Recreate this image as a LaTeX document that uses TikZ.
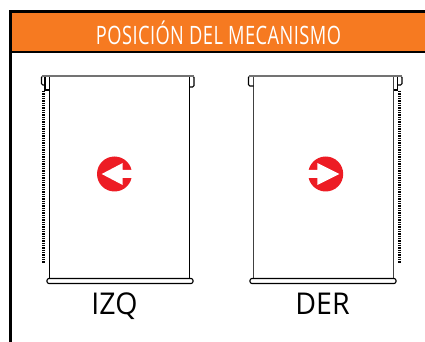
\documentclass[tikz,border=0pt]{standalone}
\usepackage{fontspec}
\setmainfont{Open Sans}
\newfontfamily\titlefont[FakeStretch=0.72,LetterSpace=1.8]{Open Sans}
\newfontfamily\labelfont[FakeStretch=0.95]{Open Sans}
\definecolor{hdr}{HTML}{F67A21}
\definecolor{markred}{HTML}{ED1C24}
\tikzset{
  frameline/.style={draw=black,line width=2.2pt},
  blindline/.style={draw=black,line width=0.85pt},
  topline/.style={draw=black!55,line width=1.5pt},
  chainline/.style={draw=black,line width=1.7pt,dash pattern=on 1.05pt off 0.7pt},
  sidelabel/.style={font=\labelfont\fontsize{22.5}{24}\selectfont,text=black,inner sep=0pt,anchor=base},
  headtext/.style={font=\titlefont\fontsize{19}{20}\selectfont,text=white,inner sep=0pt}
}
\begin{document}
\begin{tikzpicture}[x=0.75pt,y=-0.75pt]
\useasboundingbox (0,0) rectangle (425,342);
\fill[white] (0,0) rectangle (425,342);
% header
\fill[hdr] (10,11) rectangle (425,52);
\draw[frameline] (425,11.5) -- (10.2,11.5) -- (10.2,342);
\draw[frameline] (10,52) -- (425,52);
\node[headtext] (title) at (218.5,33) {POSICIÓN DEL MECANISMO};
% left blind
\draw[blindline] (49.5,76) -- (49.5,278);
\draw[blindline] (189.5,76) -- (189.5,278);
\draw[blindline,rounded corners=1pt] (45,76) -- (41.5,76) -- (41.5,85) -- (45,85);
\draw[blindline] (45,76) -- (45,90) -- (49.5,90);
\draw[blindline,rounded corners=1pt] (189.5,87) -- (194,87) -- (194,76) -- (189.5,76);
\draw[topline] (42,76) -- (193.5,76);
\draw[chainline] (43.5,91) -- (43.5,263);
\draw[blindline,rounded corners=1.5pt] (47,278.5) rectangle (193,283.5);
\node[sidelabel] (izq) at (114.5,314) {IZQ};
% right blind
\draw[draw=black!75,line width=0.85pt] (253.5,76) -- (253.5,278);
\draw[draw=black!75,line width=0.85pt] (393.5,76) -- (393.5,278);
\draw[blindline,rounded corners=1pt] (253.5,86) -- (248.5,86) -- (248.5,76) -- (253.5,76);
\draw[blindline] (397.5,76) -- (397.5,90) -- (393.5,90);
\draw[blindline,rounded corners=1pt] (397.5,76) -- (402,76) -- (402,85) -- (397.5,85);
\draw[topline] (249,76) -- (401.5,76);
\draw[chainline] (399.5,91) -- (399.5,263);
\draw[blindline,rounded corners=1.5pt] (250,278.5) rectangle (396,283.5);
\node[sidelabel] (der) at (322.5,314) {DER};
% left mark
\fill[markred] (114.5,174) circle[radius=17.5];
\fill[white] (101.7,174) -- (122.7,163) -- (122.7,170) -- (133,170) -- (133,178) -- (122.7,178) -- (122.7,185) -- cycle;
% right mark
\fill[markred] (325.7,174) circle[radius=17.5];
\fill[white] (339.3,174) -- (317.3,163) -- (317.3,170) -- (308,170) -- (308,178) -- (317.3,178) -- (317.3,185) -- cycle;
\end{tikzpicture}
\end{document}
